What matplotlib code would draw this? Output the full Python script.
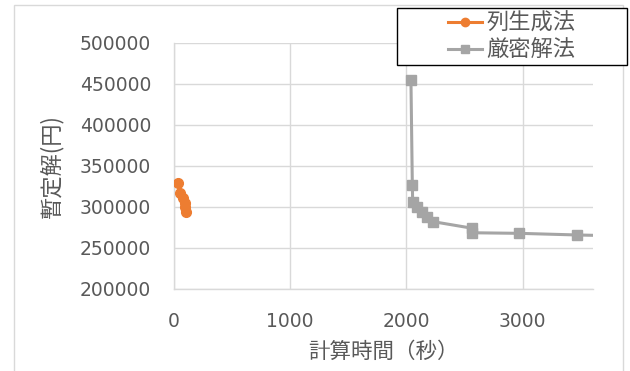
import matplotlib
matplotlib.use("Agg")
import matplotlib.pyplot as plt
from matplotlib.patches import Rectangle
from matplotlib.lines import Line2D

plt.rcParams['font.family'] = ['Noto Sans CJK JP', 'DejaVu Sans']

# Column generation results: (time [s], objective [yen])
cg_time = [40, 54, 80, 95, 100, 103]
cg_value = [329000, 316500, 311000, 305000, 300000, 294000]

# Exact method results
ex_time = [2040, 2052, 2055, 2089, 2132, 2175, 2232, 2567, 2567, 2972, 3470, 3900]
ex_value = [455000, 326500, 306300, 300200, 294200, 288000, 282000, 274000, 268500, 267800, 265800, 264500]

series_names = ['列生成法', '厳密解法']
x_ticks = [0, 1000, 2000, 3000]
y_ticks = [200000, 250000, 300000, 350000, 400000, 450000, 500000]

W, H = 630, 371
fig = plt.figure(figsize=(W / 100, H / 100), dpi=100)

# chart frame
fig.patches.append(Rectangle((14 / W, 1 - 372 / H), (623 - 14) / W, (372 - 5) / H,
                             transform=fig.transFigure, fill=False,
                             edgecolor='#D9D9D9', linewidth=1.0))

left, right, top, bottom = 173.7, 592.7, 42.7, 289.0
ax = fig.add_axes([left / W, 1 - bottom / H, (right - left) / W, (bottom - top) / H])

orange = '#ED7D31'
gray = '#A5A5A5'
txt = '#595959'

ax.plot(cg_time, cg_value, color=orange, marker='o', markersize=7,
        linewidth=2.2, solid_capstyle='round', zorder=3)
ax.plot(ex_time, ex_value, color=gray, marker='s', markersize=6.8,
        linewidth=2.2, zorder=3)

ax.set_xlim(0, 3603)
ax.set_ylim(200000, 500000)
ax.set_xticks(x_ticks)
ax.set_yticks(y_ticks)
ax.tick_params(length=0, labelsize=13.5, colors=txt)
ax.tick_params(axis='y', pad=16.3)
ax.tick_params(axis='x', pad=16.5)
for lab in ax.get_xticklabels() + ax.get_yticklabels():
    lab.set_fontfamily('DejaVu Sans')

ax.grid(True, color='#D9D9D9', linewidth=1.0)
ax.set_axisbelow(True)
for s in ['top', 'right']:
    ax.spines[s].set_visible(False)
for s in ['left', 'bottom']:
    ax.spines[s].set_color('#D9D9D9')
    ax.spines[s].set_linewidth(1.0)

ax.set_ylabel('暫定解(円)', fontsize=16, color=txt, labelpad=12)
ax.set_xlabel('計算時間（秒）', fontsize=15.5, color=txt, labelpad=7)

# legend box
lx0, ly0, lx1, ly1 = 396.7, 8.3, 626.7, 65.0
fig.patches.append(Rectangle((lx0 / W, 1 - ly1 / H), (lx1 - lx0) / W, (ly1 - ly0) / H,
                             transform=fig.transFigure, facecolor='white',
                             edgecolor='black', linewidth=1.0, zorder=5))
handles = [Line2D([], [], color=orange, marker='o', markersize=6, linewidth=2.2),
           Line2D([], [], color=gray, marker='s', markersize=6, linewidth=2.2)]
leg = fig.legend(handles, series_names, loc='center',
                 bbox_to_anchor=((lx0 + lx1) / 2 / W, 1 - (ly0 + ly1) / 2 / H),
                 frameon=False, fontsize=16, labelcolor=txt, handlelength=1.5,
                 handletextpad=0.2, labelspacing=0.15, borderpad=0)
leg.set_zorder(6)

fig.savefig('out.png', dpi=100)
